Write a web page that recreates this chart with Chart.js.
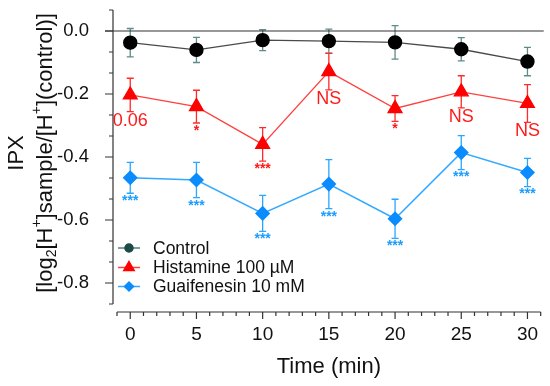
<!DOCTYPE html>
<html>
<head>
<meta charset="utf-8">
<script src="https://cdn.jsdelivr.net/npm/chart.js@4/dist/chart.umd.min.js"></script>
<style>
  html, body { margin: 0; padding: 0; background: #fff; }
  #wrap { width: 550px; height: 386px; }
</style>
</head>
<body>
<div id="wrap"><canvas id="chart"></canvas></div>
<script>
// time points (min)
const times = [0, 5, 10, 15, 20, 25, 30];

// IPX means and errors
const control = [-0.037, -0.060, -0.029, -0.032, -0.036, -0.058, -0.097];
const controlErr = [0.045, 0.040, 0.033, 0.038, 0.053, 0.037, 0.045];
const histamine = [-0.203, -0.240, -0.360, -0.129, -0.246, -0.193, -0.230];
const histamineErr = [0.053, 0.052, 0.053, 0.058, 0.041, 0.051, 0.060];
const guaifenesin = [-0.466, -0.473, -0.579, -0.486, -0.596, -0.386, -0.449];
const guaifenesinErr = [0.049, 0.056, 0.057, 0.078, 0.062, 0.054, 0.045];

// significance labels under the points
const histamineSig = ["0.06", "*", "***", "NS", "*", "NS", "NS"];
const guaifenesinSig = ["***", "***", "***", "***", "***", "***", "***"];

// tick labels
const xTickLabels = ["0", "5", "10", "15", "20", "25", "30"];
const yTickLabels = ["0.0", "-0.2", "-0.4", "-0.6", "-0.8"];

// y title: second line split into normal / sub / sup pieces
const yTitleTop = "IPX";
const yTitleParts = [
  ["[log", ""], ["2", "sub"], ["[H", ""], ["+", "sup"],
  ["]sample/[H", ""], ["+", "sup"], ["](control)]", ""]
];

const FONT = "'Liberation Sans', Arial, Helvetica, sans-serif";

function pts(vals) {
  return times.map((t, i) => ({ x: t, y: vals[i] }));
}

// error bars + significance text
const errorBars = {
  id: "errorBars",
  beforeDatasetsDraw(chart) {
    const ctx = chart.ctx;
    const xs = chart.scales.x, ys = chart.scales.y;
    chart.data.datasets.forEach(ds => {
      ctx.save();
      ctx.strokeStyle = ds.errColor;
      ctx.lineWidth = 1.3;
      ds.data.forEach((p, i) => {
        const x = xs.getPixelForValue(p.x);
        const top = ys.getPixelForValue(p.y + ds.err[i]);
        const bot = ys.getPixelForValue(p.y - ds.err[i]);
        ctx.beginPath();
        ctx.moveTo(x, top); ctx.lineTo(x, bot);
        ctx.moveTo(x - 3.5, top); ctx.lineTo(x + 3.5, top);
        ctx.moveTo(x - 3.5, bot); ctx.lineTo(x + 3.5, bot);
        ctx.stroke();
      });
      ctx.restore();
    });
  },
  afterDatasetsDraw(chart) {
    const ctx = chart.ctx;
    const xs = chart.scales.x, ys = chart.scales.y;
    chart.data.datasets.forEach(ds => {
      if (!ds.sig) return;
      ctx.save();
      ctx.fillStyle = ds.sigColor;
      ctx.textAlign = "center";
      ctx.textBaseline = "top";
      ds.data.forEach((p, i) => {
        const s = ds.sig[i];
        const isStar = s.indexOf("*") >= 0;
        ctx.font = isStar ? "bold 14px " + FONT : "18px " + FONT;
        const x = xs.getPixelForValue(p.x);
        const bot = ys.getPixelForValue(p.y - ds.err[i]);
        ctx.fillText(s, x, bot + (isStar ? 1 : 0));
      });
      ctx.restore();
    });
  }
};

// detached axes with major/minor ticks, zero line, y title and legend
const axesAndLegend = {
  id: "axesAndLegend",
  beforeDatasetsDraw(chart) {
    const ctx = chart.ctx;
    const xs = chart.scales.x, ys = chart.scales.y;
    const area = chart.chartArea;
    const ax = area.left - 4;
    ctx.save();
    ctx.strokeStyle = "#333";
    ctx.lineWidth = 1.2;
    // zero line
    const y0 = ys.getPixelForValue(0);
    ctx.beginPath();
    ctx.moveTo(ax - 8, y0); ctx.lineTo(area.right + 3, y0);
    ctx.stroke();
    // y axis
    const yt = ys.ticks.map(t => t.value);
    ctx.beginPath();
    ctx.moveTo(ax, ys.getPixelForValue(Math.max(...yt)));
    ctx.lineTo(ax, ys.getPixelForValue(Math.min(...yt)));
    yt.forEach(v => {
      const p = ys.getPixelForValue(v);
      const major = yTickLabels.some(l => Math.abs(parseFloat(l) - v) < 1e-6);
      ctx.moveTo(ax, p); ctx.lineTo(ax - (major ? 8 : 4), p);
    });
    ctx.stroke();
    // x axis
    const xb = area.bottom;
    ctx.beginPath();
    ctx.moveTo(area.left, xb); ctx.lineTo(area.right, xb);
    xs.ticks.forEach(t => {
      const p = xs.getPixelForValue(t.value);
      const major = xTickLabels.includes(String(t.value));
      ctx.moveTo(p, xb); ctx.lineTo(p, xb + (major ? 7 : 4));
    });
    ctx.stroke();
    ctx.restore();

    // y title, two rotated lines
    const size = 22;
    const cy = 153;
    ctx.save();
    ctx.fillStyle = "#111";
    ctx.textBaseline = "middle";
    ctx.translate(17, cy);
    ctx.rotate(-Math.PI / 2);
    ctx.font = size + "px " + FONT;
    ctx.textAlign = "center";
    ctx.fillText(yTitleTop, 0, 0);
    ctx.restore();

    ctx.save();
    ctx.fillStyle = "#111";
    ctx.textBaseline = "middle";
    ctx.translate(46, cy);
    ctx.rotate(-Math.PI / 2);
    ctx.textAlign = "left";
    const small = Math.round(size * 0.62);
    let total = 0;
    yTitleParts.forEach(([t, k]) => {
      ctx.font = (k ? small : size) + "px " + FONT;
      total += ctx.measureText(t).width;
    });
    let x = -total / 2;
    yTitleParts.forEach(([t, k]) => {
      ctx.font = (k ? small : size) + "px " + FONT;
      const dy = k === "sub" ? size * 0.3 : k === "sup" ? -size * 0.38 : 0;
      ctx.fillText(t, x, dy);
      x += ctx.measureText(t).width;
    });
    ctx.restore();
  },
  afterDraw(chart) {
    const ctx = chart.ctx;
    const H = Chart.helpers;
    const lx = 118, tx = 153;
    const rows = [248, 267.5, 286.5];
    ctx.save();
    chart.data.datasets.forEach((ds, i) => {
      const y = rows[i];
      ctx.strokeStyle = ds.legendLine;
      ctx.lineWidth = 1.5;
      ctx.beginPath();
      ctx.moveTo(lx, y); ctx.lineTo(lx + 22, y);
      ctx.stroke();
      ctx.fillStyle = ds.legendPoint;
      ctx.strokeStyle = ds.legendPoint;
      H.drawPoint(ctx, { pointStyle: ds.pointStyle, radius: ds.legendRadius, borderWidth: 1, rotation: 0 }, lx + 11, y);
      ctx.fillStyle = "#111";
      ctx.font = "17.5px " + FONT;
      ctx.textAlign = "left";
      ctx.textBaseline = "middle";
      ctx.fillText(ds.label, tx, y + 1);
    });
    ctx.restore();
  }
};

new Chart(document.getElementById("chart"), {
  type: "line",
  data: {
    datasets: [
      {
        label: "Control",
        data: pts(control),
        err: controlErr,
        errColor: "#5d8c8a",
        borderColor: "#4a4a4a",
        borderWidth: 1.4,
        pointStyle: "circle",
        pointRadius: 6.5,
        pointBackgroundColor: "#000",
        pointBorderColor: "#000",
        legendLine: "#557f7b",
        legendPoint: "#1d4b45",
        legendRadius: 4
      },
      {
        label: "Histamine 100 µM",
        data: pts(histamine),
        err: histamineErr,
        errColor: "#ff2a2a",
        sig: histamineSig,
        sigColor: "#ff1a1a",
        borderColor: "#ff4040",
        borderWidth: 1.3,
        pointStyle: "triangle",
        pointRadius: 8,
        pointBackgroundColor: "#ff0000",
        pointBorderColor: "#ff0000",
        legendLine: "#ff4040",
        legendPoint: "#ff0000",
        legendRadius: 6
      },
      {
        label: "Guaifenesin 10 mM",
        data: pts(guaifenesin),
        err: guaifenesinErr,
        errColor: "#2aa6ff",
        sig: guaifenesinSig,
        sigColor: "#1b9cff",
        borderColor: "#33aaff",
        borderWidth: 1.5,
        pointStyle: "rectRot",
        pointRadius: 6.5,
        pointBackgroundColor: "#0a8cff",
        pointBorderColor: "#0a8cff",
        legendLine: "#33aaff",
        legendPoint: "#0a8cff",
        legendRadius: 4.5
      }
    ]
  },
  options: {
    responsive: true,
    maintainAspectRatio: false,
    animation: false,
    events: [],
    layout: { padding: { top: 10, right: 8, left: 0, bottom: 0 } },
    plugins: { legend: { display: false }, tooltip: { enabled: false } },
    elements: { line: { tension: 0 }, point: { borderWidth: 1 } },
    scales: {
      x: {
        type: "linear",
        min: -1,
        max: 31,
        grid: { display: false },
        border: { display: false },
        afterBuildTicks(scale) {
          const ticks = [];
          for (let v = scale.min; v <= scale.max; v++) ticks.push({ value: v });
          scale.ticks = ticks;
        },
        afterFit(scale) { scale.height = 74; },
        ticks: {
          autoSkip: false,
          maxRotation: 0,
          padding: 3,
          color: "#111",
          font: { family: FONT, size: 19 },
          callback: v => (xTickLabels.includes(String(v)) ? String(v) : "")
        },
        title: {
          display: true,
          text: "Time (min)",
          color: "#111",
          font: { family: FONT, size: 22 },
          padding: { top: 0, bottom: 6 }
        }
      },
      y: {
        type: "linear",
        min: -0.892,
        max: 0.0667,
        grid: { display: false },
        border: { display: false },
        afterBuildTicks(scale) {
          const step = (parseFloat(yTickLabels[0]) - parseFloat(yTickLabels[1])) / 3;
          const ticks = [];
          for (let k = 1; k >= -13; k--) ticks.push({ value: k * step });
          scale.ticks = ticks;
        },
        afterFit(scale) {
          scale.width = 117;
          scale.paddingTop = 0;
          scale.paddingBottom = 0;
        },
        ticks: {
          autoSkip: false,
          padding: 20,
          color: "#111",
          font: { family: FONT, size: 18.5 },
          callback: v => {
            const hit = yTickLabels.find(l => Math.abs(parseFloat(l) - v) < 1e-6);
            return hit === undefined ? "" : hit;
          }
        },
        title: { display: false }
      }
    }
  },
  plugins: [errorBars, axesAndLegend]
});
</script>
</body>
</html>
